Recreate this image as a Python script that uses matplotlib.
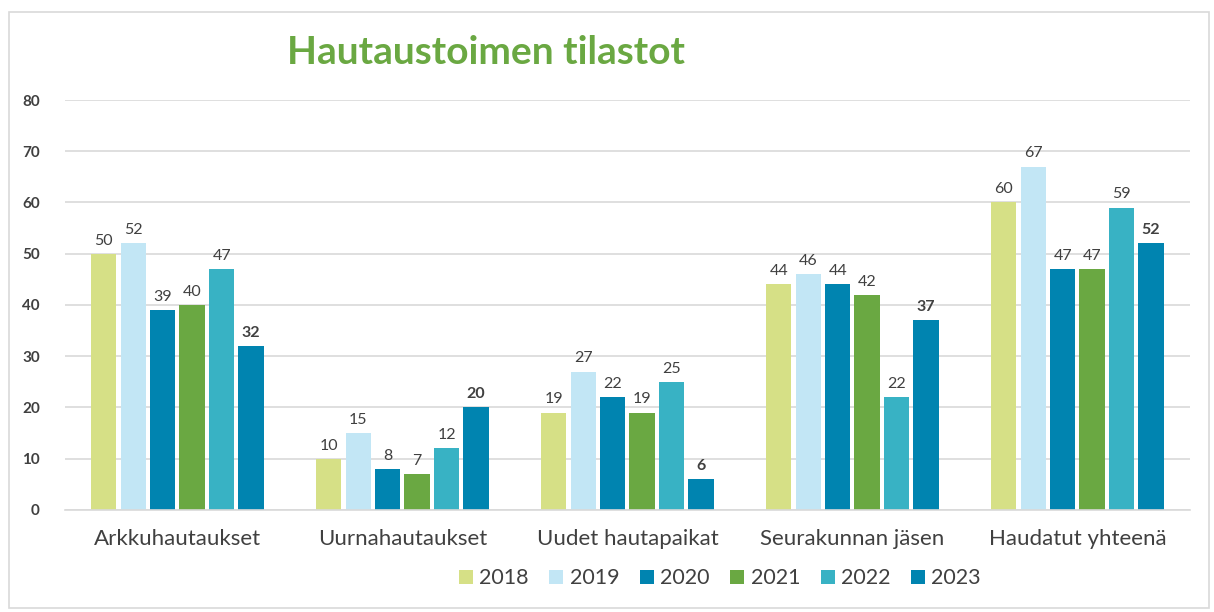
import matplotlib
matplotlib.use('Agg')
import matplotlib.pyplot as plt
import numpy as np
from matplotlib.patches import Rectangle

# data
categories = ["Arkkuhautaukset", "Uurnahautaukset", "Uudet hautapaikat", "Seurakunnan jäsen", "Haudatut yhteenä"]
years = ["2018", "2019", "2020", "2021", "2022", "2023"]
v2018 = [50, 10, 19, 44, 60]
v2019 = [52, 15, 27, 46, 67]
v2020 = [39, 8, 22, 44, 47]
v2021 = [40, 7, 19, 42, 47]
v2022 = [47, 12, 25, 22, 59]
v2023 = [32, 20, 6, 37, 52]
yticks = [0, 10, 20, 30, 40, 50, 60, 70, 80]

series = [v2018, v2019, v2020, v2021, v2022, v2023]
colors = ['#D6E086', '#C2E6F5', '#0084B0', '#6AA842', '#38B2C4', '#0084B0']
TXT = '#404040'

plt.rcParams['font.family'] = ['Lato', 'DejaVu Sans']

fig = plt.figure(figsize=(12.14, 6.12), dpi=100)
ax = fig.add_axes([0.0535, 0.1667, 0.9267, 0.6699])

# light frame around the chart
fig.patches.append(Rectangle((9 / 1214, 4 / 612), 1200 / 1214, 596 / 612,
                             transform=fig.transFigure, fill=False,
                             edgecolor='#D9D9D9', linewidth=1.2))

x = np.arange(len(categories))
step = 0.131
width = 0.113
for i, (vals, col) in enumerate(zip(series, colors)):
    pos = x + (i - 2.5) * step
    ax.bar(pos, vals, width, color=col, label=years[i], zorder=2)
    for p, v in zip(pos, vals):
        ax.text(p, v + 1.2, str(v), ha='center', va='bottom', fontsize=11.5,
                color=TXT, fontweight='bold' if i == 5 else 'normal')

ax.set_xlim(-0.5, 4.5)
ax.set_ylim(0, 80)
ax.set_yticks(yticks)
ax.set_yticklabels([str(t) for t in yticks], fontsize=11, fontweight='bold', color=TXT)
ax.set_xticks(x)
ax.set_xticklabels(categories, fontsize=16, color=TXT)
ax.tick_params(axis='both', length=0)
ax.tick_params(axis='y', pad=18)
ax.tick_params(axis='x', pad=14)
ax.grid(axis='y', color='#D9D9D9', linewidth=1.2, zorder=0)
for s in ['top', 'right', 'left']:
    ax.spines[s].set_visible(False)
ax.spines['bottom'].set_color('#D9D9D9')
ax.spines['bottom'].set_linewidth(1.2)

fig.text(0.40, 0.915, "Hautaustoimen tilastot", ha='center', va='center',
         fontsize=28, fontweight='bold', color='#6AA842')

leg = fig.legend(loc='center', bbox_to_anchor=(0.593, 0.055), ncol=6, frameon=False,
                 fontsize=15.5, handlelength=0.65, handleheight=0.65, handletextpad=0.3,
                 columnspacing=0.95)
for t in leg.get_texts():
    t.set_color(TXT)

fig.savefig('out.png', dpi=100)
